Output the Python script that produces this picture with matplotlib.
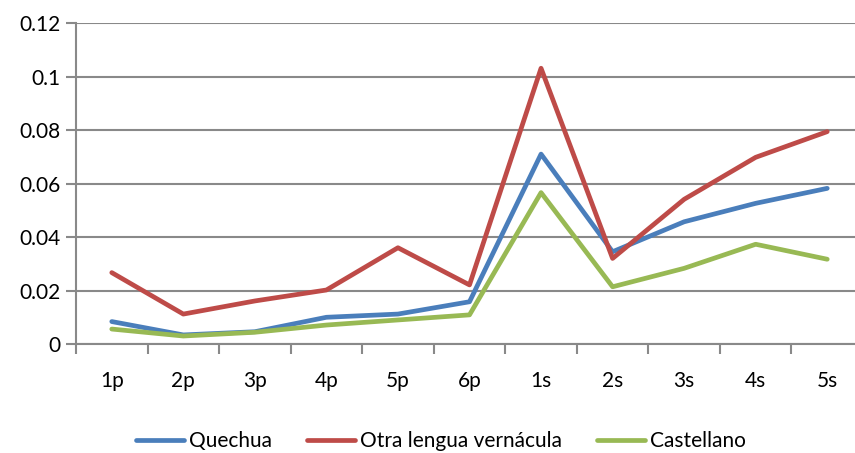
import matplotlib
matplotlib.use("Agg")
import matplotlib.pyplot as plt
import numpy as np

categories = ["1p", "2p", "3p", "4p", "5p", "6p", "1s", "2s", "3s", "4s", "5s"]
quechua = [0.0085, 0.0035, 0.0047, 0.0101, 0.0113, 0.0159, 0.0711, 0.0346, 0.0458, 0.0527, 0.0583]
otra = [0.0268, 0.0113, 0.0162, 0.0203, 0.0361, 0.0222, 0.1032, 0.0321, 0.0542, 0.0699, 0.0795]
castellano = [0.0057, 0.0031, 0.0045, 0.0072, 0.0091, 0.0110, 0.0567, 0.0215, 0.0284, 0.0374, 0.0318]
yticks = [0, 0.02, 0.04, 0.06, 0.08, 0.1, 0.12]
ytick_labels = ["0", "0.02", "0.04", "0.06", "0.08", "0.1", "0.12"]

plt.rcParams['font.family'] = ['Lato', 'DejaVu Sans']

fig = plt.figure(figsize=(8.55, 4.53), dpi=100)
ax = fig.add_axes([76/855, 108.7/453, 787/855, 321/453])

x = np.arange(len(categories))
lw = 3.4
ax.plot(x, quechua, color="#4A7EBB", lw=lw, label="Quechua", solid_joinstyle="round", solid_capstyle="round")
ax.plot(x, otra, color="#BE4B48", lw=lw, label="Otra lengua vernácula", solid_joinstyle="round", solid_capstyle="round")
ax.plot(x, castellano, color="#98B954", lw=lw, label="Castellano", solid_joinstyle="round", solid_capstyle="round")

ax.set_xlim(-0.5, len(categories) - 0.5)
ax.set_ylim(0, 0.12)
ax.set_yticks(yticks)
ax.set_yticklabels(ytick_labels, fontsize=15)
ax.yaxis.grid(True, color="#898989", lw=1.5)
ax.set_axisbelow(True)

ax.set_xticks(x)
ax.set_xticklabels(categories, fontsize=15)
ax.set_xticks(np.arange(-0.5, len(categories), 1), minor=True)
ax.tick_params(axis="x", which="major", length=0, pad=19)
ax.tick_params(axis="x", which="minor", length=7, width=1.5, color="#898989")
ax.tick_params(axis="y", length=7, width=1.5, color="#898989", pad=4)

for s in ["top", "right"]:
    ax.spines[s].set_visible(False)
for s in ["left", "bottom"]:
    ax.spines[s].set_color("#898989")
    ax.spines[s].set_linewidth(1.5)

fig.legend(loc="center", bbox_to_anchor=(0.516, 12/453), ncol=3, frameon=False,
           fontsize=15, handlelength=2.3, handletextpad=0.24, columnspacing=1.68)

fig.savefig("out.png", dpi=100)
